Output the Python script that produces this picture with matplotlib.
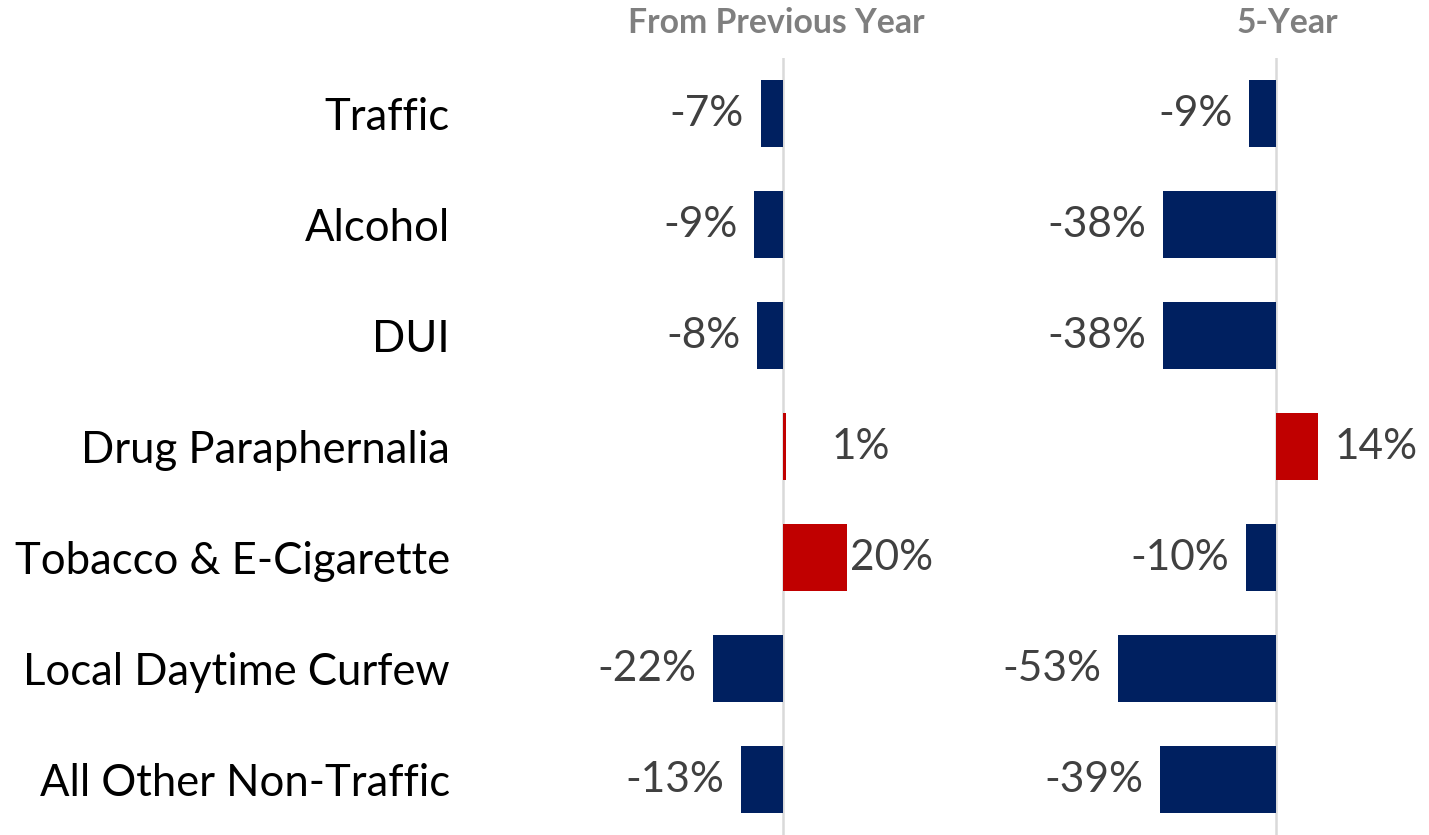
import matplotlib
matplotlib.use('Agg')
import matplotlib.pyplot as plt

plt.rcParams['font.family'] = ['Lato', 'DejaVu Sans']

categories = ['Traffic', 'Alcohol', 'DUI', 'Drug Paraphernalia',
              'Tobacco & E-Cigarette', 'Local Daytime Curfew', 'All Other Non-Traffic']
prev_year = [-7, -9, -8, 1, 20, -22, -13]
five_year = [-9, -38, -38, 14, -10, -53, -39]

NAVY = '#002060'
RED = '#C00000'
LABEL = '#404040'
TITLE = '#7F7F7F'
GRID = '#D9D9D9'

W, H = 1429, 835
fig = plt.figure(figsize=(W / 100, H / 100), dpi=100)


def px_axes(x0, x1, y0, y1):
    return fig.add_axes([x0 / W, 1 - y1 / H, (x1 - x0) / W, (y1 - y0) / H])


def panel(ax, vals, zero_px, x0, x1, scale, extra_pad=None):
    ax.set_xlim(-(zero_px - x0) / scale, (x1 - zero_px) / scale)
    ax.set_ylim(len(vals) - 0.5, -0.5)
    colors = [RED if v > 0 else NAVY for v in vals]
    ax.barh(range(len(vals)), vals, height=0.61, color=colors, zorder=2)
    ax.axvline(0, color=GRID, lw=1.8, zorder=1)
    for i, v in enumerate(vals):
        pad = 12 if extra_pad is None else extra_pad.get(i, 12)
        ax.annotate(f'{v}%', xy=(v, i), xytext=(pad if v > 0 else -pad, 0),
                    textcoords='offset points', va='center',
                    ha='left' if v > 0 else 'right',
                    fontsize=30.5, color=LABEL)
    for s in ax.spines.values():
        s.set_visible(False)
    ax.set_xticks([])
    ax.tick_params(left=False, labelleft=False)


ax1 = px_axes(470, 975, 58, 835)
panel(ax1, prev_year, 783, 470, 975, 3.2, extra_pad={3: 33, 4: 2})
ax1.set_yticks(range(len(categories)))
ax1.set_yticklabels(categories, fontsize=31.4, color='black')
ax1.tick_params(left=False, labelleft=True, pad=11)

ax2 = px_axes(985, 1429, 58, 835)
panel(ax2, five_year, 1276, 985, 1429, 2.98)

fig.text(776 / W, 1 - 23 / H, 'From Previous Year', ha='center', va='center',
         fontsize=24.3, fontweight='bold', color=TITLE)
fig.text(1287 / W, 1 - 23 / H, '5-Year', ha='center', va='center',
         fontsize=24.3, fontweight='bold', color=TITLE)

fig.savefig('out.png', dpi=100, facecolor='white')
